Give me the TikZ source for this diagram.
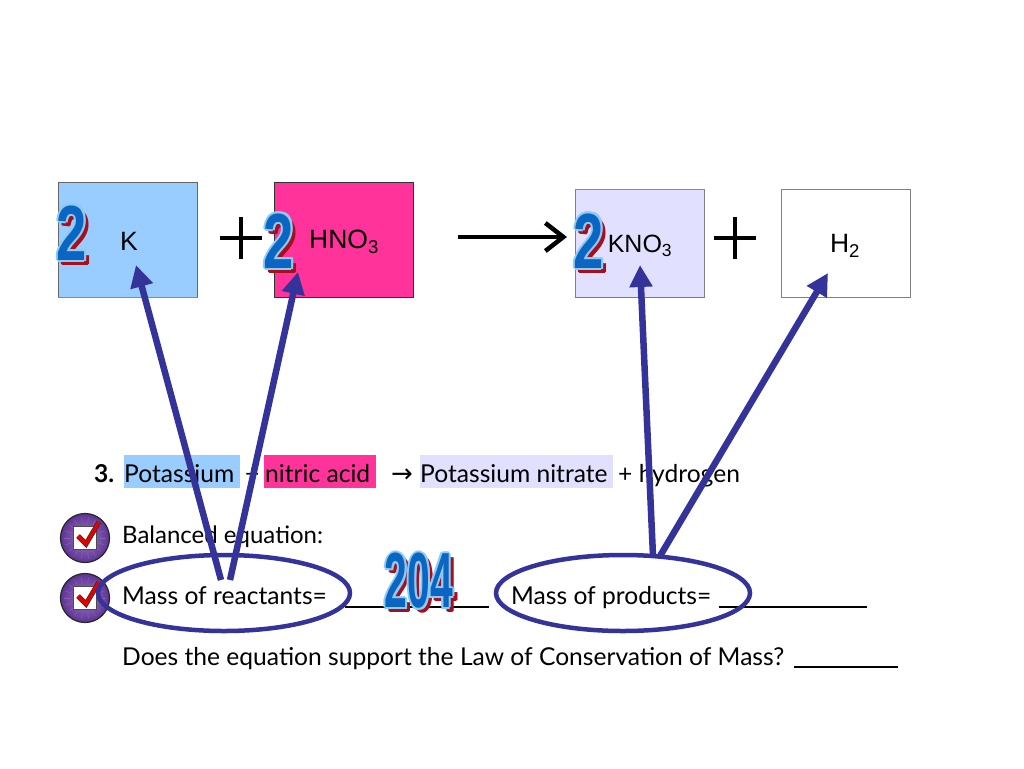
\documentclass[tikz,border=0pt]{standalone}
\usepackage{fontspec}
\setmainfont{Liberation Sans}
\newfontfamily\schoolfont{Lato}
\usepackage{xcolor}
\usepackage{tikz}
\usetikzlibrary{arrows.meta,calc,shapes.geometric}
\definecolor{PotassiumBlue}{HTML}{99CCFF}
\definecolor{AcidPink}{HTML}{FF3399}
\definecolor{NitrateLilac}{HTML}{E1E1FF}
\definecolor{PointerBlue}{HTML}{333399}
\definecolor{CoefBlue}{HTML}{0A66C2}
\definecolor{CoefEdge}{HTML}{8CCBF2}
\definecolor{CoefRed}{HTML}{A80F1E}
\definecolor{BadgePurple}{HTML}{5E3392}
\definecolor{BadgeLight}{HTML}{9A78C8}
\tikzset{
  formulabox/.style={draw=#1,line width=0.8pt,anchor=north west,inner sep=0pt},
  formula/.style={font=\fontsize{26.5}{26.5}\selectfont,inner sep=0pt},
  rowtext/.style={font=\schoolfont\fontsize{24.6}{25}\selectfont,anchor=base west,inner sep=0pt},
  wordbox/.style={anchor=north west,inner sep=0pt},
  pointer/.style={PointerBlue,line width=6.5pt,-{Triangle[length=22pt,width=22pt]}},
  loop/.style={draw=PointerBlue,line width=4.5pt,ellipse,inner sep=0pt},
  bigsign/.style={line width=4.5pt,black}
}
% stacked copies give the shadow and the outline of a coefficient
\newcommand{\coef}[4]{
  \foreach \dx/\dy in {5/4,4/5,3/4} {
    \node[font=\bfseries\fontsize{34}{34}\selectfont,text=CoefRed,xscale=#3,yscale=#4,inner sep=0pt] at ($(#2)+(\dx,\dy)$) {\coeftext};
  }
  \foreach \dx/\dy in {-2/0,2/0,0/-2,0/2,-1.5/-1.5,1.5/1.5,-1.5/1.5,1.5/-1.5} {
    \node[font=\bfseries\fontsize{34}{34}\selectfont,text=CoefEdge,xscale=#3,yscale=#4,inner sep=0pt] at ($(#2)+(\dx,\dy)$) {\coeftext};
  }
  \node[font=\bfseries\fontsize{34}{34}\selectfont,text=CoefBlue,xscale=#3,yscale=#4,inner sep=0pt] (#1) at (#2) {\coeftext};
}
\newcommand{\badge}[2]{
  \node[circle,draw=black!85,line width=1.2pt,inner color=BadgeLight,outer color=BadgePurple,minimum size=49pt,inner sep=0pt] (#1) at (#2) {};
  \foreach \a in {0,20,...,340} {
    \draw[BadgeLight,opacity=0.5,line width=0.5pt] ($(#1)+(\a:15)$) -- ($(#1)+(\a:21)$);
  }
  \node[draw=black!70,fill=white,line width=1pt,minimum size=23pt,inner sep=0pt] (#1box) at (#1) {};
  \draw[black!80,line width=5pt] ($(#1)+(-7,-2)$) -- ($(#1)+(1,6)$) -- ($(#1)+(14,-16)$);
  \draw[red!90!black,line width=3.4pt] ($(#1)+(-7,-2)$) -- ($(#1)+(1,6)$) -- ($(#1)+(14,-16)$);
}
\begin{document}
\begin{tikzpicture}[x=1pt,y=-1pt]
  \useasboundingbox (0,0) rectangle (1024,768);
  % boxes of the equation
  \node[formulabox=black!60,fill=PotassiumBlue,minimum width=139pt,minimum height=115pt] (kbox) at (58,182) {};
  \node[formulabox=black!80,fill=AcidPink,minimum width=139pt,minimum height=115pt] (acidbox) at (274,182) {};
  \node[formulabox=black!50,fill=NitrateLilac,minimum width=129pt,minimum height=108pt] (nitratebox) at (575,189) {};
  \node[formulabox=black!50,fill=white,minimum width=129pt,minimum height=108pt] (hydrogenbox) at (781,189) {};
  \draw[teal!70,line width=0.8pt] (nitratebox.north west) -- (nitratebox.north east);
  \draw[purple!70,line width=0.8pt] (nitratebox.south west) -- (nitratebox.south east);
  \draw[teal!70,line width=0.8pt] (kbox.south west) -- (kbox.south east);
  \node[formula] (k) at (129,241) {K};
  \node[formula] (acid) at (344,242) {HNO\textsubscript{3}};
  \node[formula,font=\fontsize{25}{25}\selectfont] (nitrate) at (640,246) {KNO\textsubscript{3}};
  \node[formula] (hydrogen) at (845,246) {H\textsubscript{2}};
  % signs
  \coordinate (plusa) at (241,238);
  \coordinate (plusb) at (735,238);
  \foreach \p in {plusa,plusb} {
    \draw[bigsign] ($(\p)+(-21,0)$) -- ($(\p)+(21,0)$);
    \draw[bigsign] ($(\p)+(0,-21)$) -- ($(\p)+(0,21)$);
  }
  \coordinate (yieldstart) at (458,237);
  \coordinate (yieldend) at (567,237);
  \draw[bigsign,-{Straight Barb[length=18pt,width=28pt,line width=4.5pt]}] (yieldstart) -- (yieldend);
  % word equation
  \node[wordbox,fill=PotassiumBlue,minimum width=116pt,minimum height=33pt] (wordk) at (124,455) {};
  \node[wordbox,fill=AcidPink,minimum width=112pt,minimum height=33pt] (wordacid) at (264,455) {};
  \node[wordbox,fill=NitrateLilac,minimum width=193pt,minimum height=33pt] (wordnitrate) at (420,455) {};
  \node[rowtext] (three) at (94,482) {\textbf{3.}};
  \node[rowtext] (potassium) at (124,482) {Potassium};
  \node[rowtext] (plusword) at (245,482) {+};
  \node[rowtext] (nitric) at (265,482) {nitric acid};
  \node[rowtext] (yieldword) at (391,482) {\fontspec{DejaVu Sans}\fontsize{26}{26}\selectfont→};
  \node[rowtext] (nitrateword) at (420,482) {Potassium nitrate};
  \node[rowtext] (hydrogenword) at (618,482) {+ hydrogen};
  \node[rowtext,font=\schoolfont\fontsize{24}{25}\selectfont] (balanced) at (122,543) {Balanced equation:};
  \node[rowtext] (reactants) at (122,604) {Mass of reactants=};
  \node[rowtext] (products) at (511,604) {Mass of products=};
  \node[rowtext] (law) at (122,665) {Does the equation support the Law of Conservation of Mass?};
  \node[inner sep=0pt,anchor=north west] (blanka) at (345,606) {\rule{144pt}{1.5pt}};
  \node[inner sep=0pt,anchor=north west] (blankb) at (719,606) {\rule{148pt}{1.5pt}};
  \node[inner sep=0pt,anchor=north west] (blankc) at (794,666) {\rule{104pt}{1.5pt}};
  % check marks
  \badge{checka}{85,538}
  \badge{checkb}{85,598}
  % loops and pointers
  \node[loop,minimum width=252pt,minimum height=76pt] (reactloop) at (224,593) {};
  \node[loop,minimum width=254pt,minimum height=76pt] (prodloop) at (623,593) {};
  \coordinate (reactfoota) at (221,580);
  \coordinate (reactfootb) at (230,580);
  \coordinate (prodfoota) at (653,556);
  \coordinate (prodfootb) at (660,556);
  \coordinate (ktip) at (136,265);
  \coordinate (acidtip) at (298,272);
  \coordinate (nitratetip) at (640,265);
  \coordinate (hydrogentip) at (828,273);
  \draw[pointer] (reactfoota) -- (ktip);
  \draw[pointer] (reactfootb) -- (acidtip);
  \draw[pointer] (prodfoota) -- (nitratetip);
  \draw[pointer] (prodfootb) -- (hydrogentip);
  % coefficients
  \def\coeftext{2}
  \coef{twoa}{72,233}{1.6}{2.3}
  \coef{twob}{279,241}{1.6}{2.3}
  \coef{twoc}{589,241}{1.6}{2.3}
  \def\coeftext{204}
  \coef{mass}{419,581}{1.2}{2.3}
\end{tikzpicture}
\end{document}
